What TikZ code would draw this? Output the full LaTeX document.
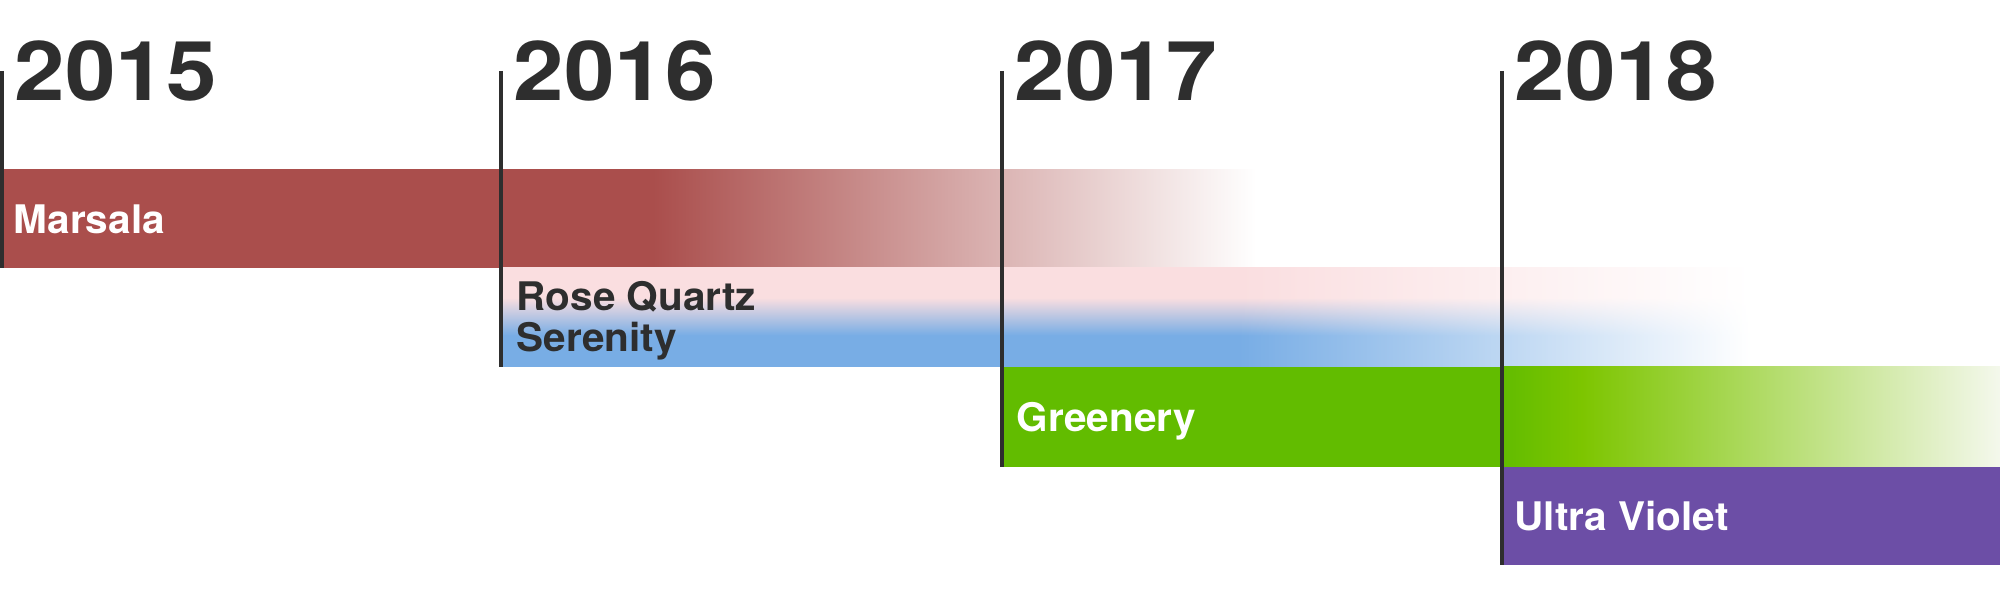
\documentclass[tikz,border=0pt]{standalone}
\usepackage{fontspec}
\setmainfont{TeX Gyre Heros}
\newfontfamily\yearfont[FakeStretch=1.1]{TeX Gyre Heros}
\newfontfamily\namefont[FakeStretch=1.03]{TeX Gyre Heros}
\usetikzlibrary{fadings}

\definecolor{marsala}{HTML}{AA4E4C}
\definecolor{rosequartz}{HTML}{FADEE0}
\definecolor{serenity}{HTML}{78ADE5}
\definecolor{greenery}{HTML}{62BC00}
\definecolor{greenlight}{HTML}{7DC500}
\definecolor{greenend}{HTML}{F4F8EC}
\definecolor{ultraviolet}{HTML}{6C4EA6}
\definecolor{inkdark}{HTML}{2E2E2E}

\tikzfading[name=fadeeast, left color=transparent!0, right color=transparent!100]
\pgfdeclarehorizontalshading{marsalafade}{100bp}{color(0bp)=(marsala); color(51bp)=(marsala); color(75bp)=(white); color(100bp)=(white)}
\pgfdeclareverticalshading{rosesky}{100bp}{color(0bp)=(serenity); color(41bp)=(serenity); color(60bp)=(rosequartz); color(100bp)=(rosequartz)}
\pgfdeclarehorizontalshading{greenfade}{100bp}{color(0bp)=(greenery); color(25bp)=(greenery); color(33bp)=(greenlight); color(75bp)=(greenend); color(100bp)=(greenend)}

\begin{document}
\begin{tikzpicture}[x=0.1mm,y=-0.1mm,
  yeartxt/.style={inner sep=0pt,anchor=base west,text=inkdark,font=\yearfont\fontsize{23.5pt}{28pt}\selectfont\bfseries},
  colname/.style={inner sep=0pt,anchor=base west,text=white,font=\namefont\fontsize{11.2pt}{13pt}\selectfont\bfseries},
  yearline/.style={draw=inkdark,line width=0.95pt}]

\useasboundingbox (0,0) rectangle (2000,612);

%Marsala
\shade[shading=marsalafade] (0,170) rectangle (1256,268);

%Rose Quartz + Serenity
\shade[shading=rosesky] (501,268) rectangle (1241,367);
\shade[shading=rosesky,path fading=fadeeast] (1240,268) rectangle (1750,367);

%Greenery
\fill[greenery] (1002,367) rectangle (1503,467);
\shade[shading=greenfade] (1502,367) rectangle (2000,467);

%Ultra Violet
\fill[ultraviolet] (1502,467) rectangle (2000,565);

\coordinate (t15) at (2,71);
\coordinate (b15) at (2,268);
\coordinate (t16) at (501,71);
\coordinate (b16) at (501,367);
\coordinate (t17) at (1002,71);
\coordinate (b17) at (1002,467);
\coordinate (t18) at (1502,71);
\coordinate (b18) at (1502,565);

\draw[yearline] (t15) -- (b15);
\draw[yearline] (t16) -- (b16);
\draw[yearline] (t17) -- (b17);
\draw[yearline] (t18) -- (b18);

\node[yeartxt] (y15) at (14,101) {2015};
\node[yeartxt] (y16) at (513,101) {2016};
\node[yeartxt] (y17) at (1014,101) {2017};
\node[yeartxt] (y18) at (1514,101) {2018};

\node[colname] (marsala) at (13,234) {Marsala};
\node[colname,text=inkdark] (rose) at (516,311) {Rose Quartz};
\node[colname,text=inkdark] (serenity) at (516,352) {Serenity};
\node[colname] (greenery) at (1016,432) {Greenery};
\node[colname] (violet) at (1514,531) {Ultra Violet};
\end{tikzpicture}
\end{document}
